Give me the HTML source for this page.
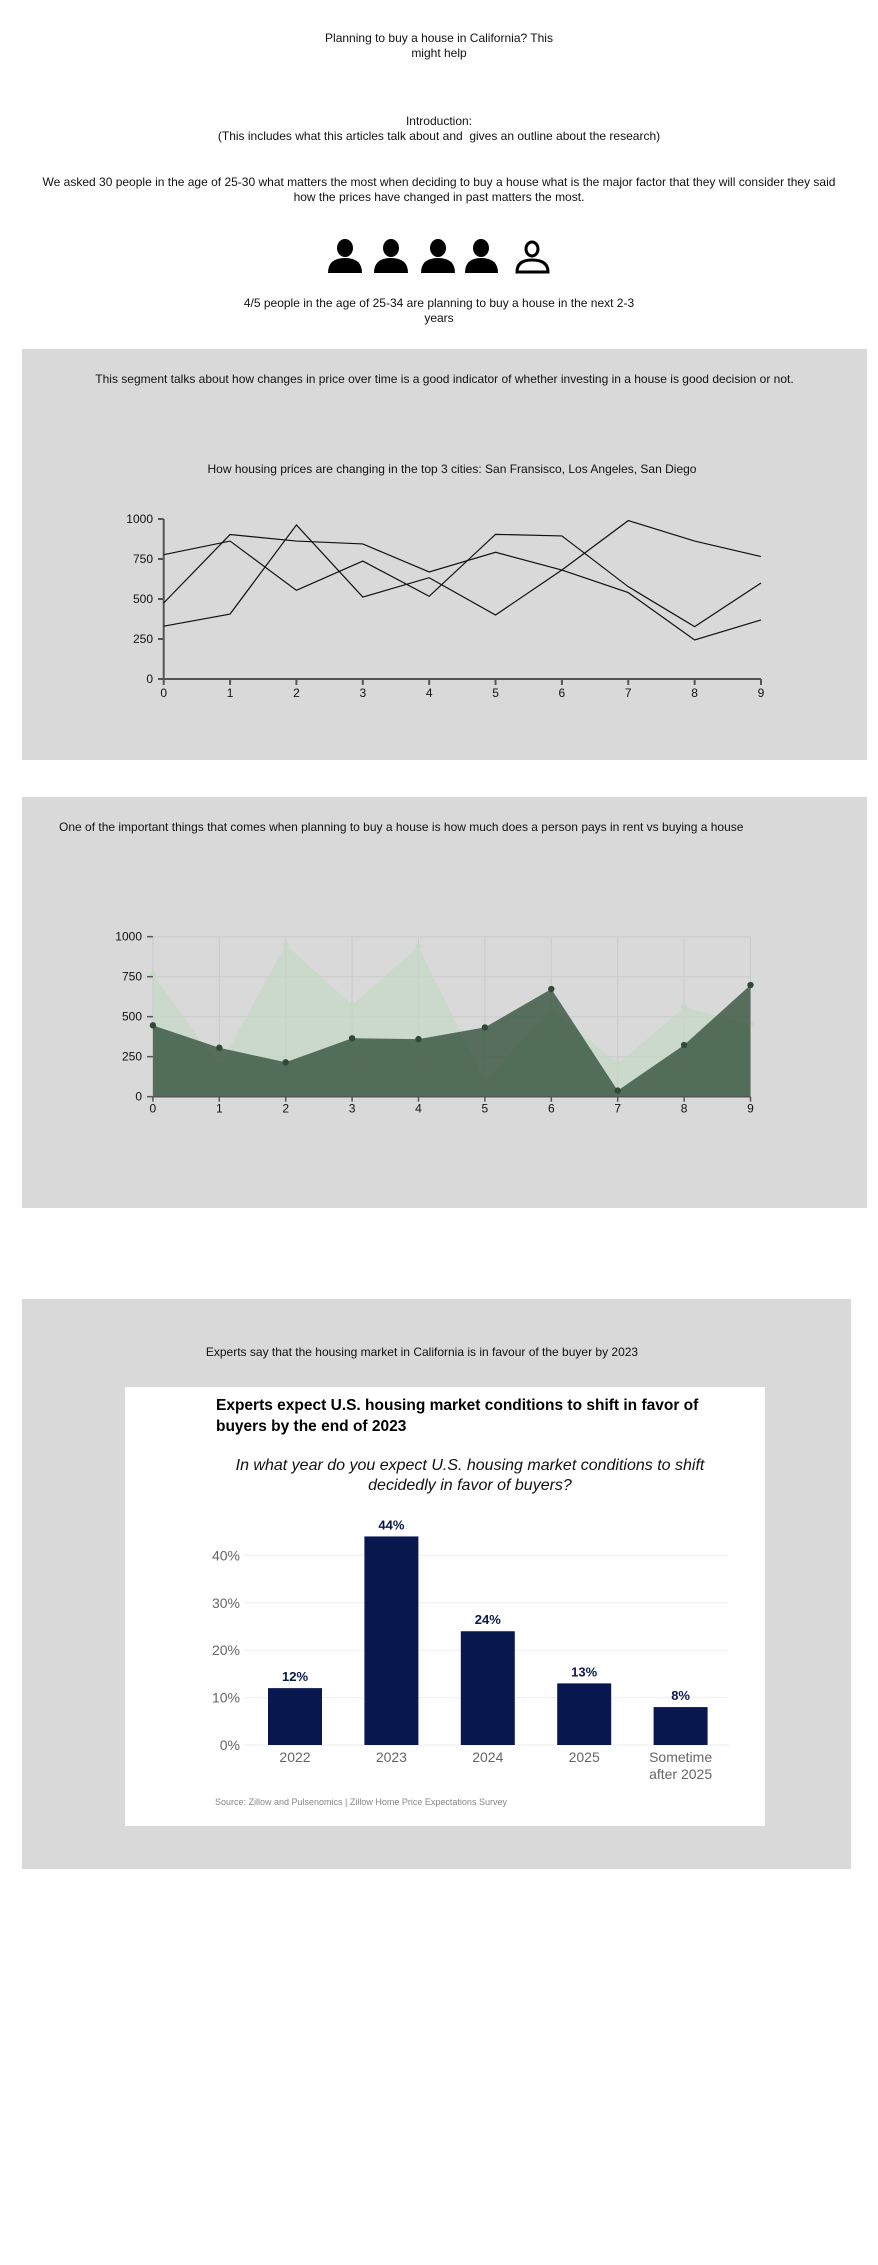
<!DOCTYPE html>
<html><head><meta charset="utf-8">
<style>
html,body{margin:0;padding:0;background:#fff;}
body{width:878px;height:2265px;position:relative;overflow:hidden;font-family:"Liberation Sans",sans-serif;color:#111;}
.t{position:absolute;left:0;width:878px;text-align:center;font-size:12px;line-height:15px;}
.box{position:absolute;background:#d9d9d9;}
svg text{font-family:"Liberation Sans",sans-serif;}
</style></head><body>
<div class="t" style="top:31px;">Planning to buy a house in California? This<br>might help</div>
<div class="t" style="top:114px;">Introduction:<br>(This includes what this articles talk about and&nbsp; gives an outline about the research)</div>
<div class="t" style="top:175px;left:30px;width:818px;">We asked 30 people in the age of 25-30 what matters the most when deciding to buy a house what is the major factor that they will consider they said how the prices have changed in past matters the most.</div>
<svg style="position:absolute;left:0;top:0" width="878" height="300">
  <g fill="#000">
    <g><ellipse cx="345" cy="248" rx="8" ry="9"/><path d="M328 273 Q328 258 345 258 Q362 258 362 273 Z"/></g>
    <g><ellipse cx="391" cy="248" rx="8" ry="9"/><path d="M374 273 Q374 258 391 258 Q408 258 408 273 Z"/></g>
    <g><ellipse cx="438" cy="248" rx="8" ry="9"/><path d="M421 273 Q421 258 438 258 Q455 258 455 273 Z"/></g>
    <g><ellipse cx="481" cy="248" rx="8" ry="9"/><path d="M465 273 Q465 258 481 258 Q498 258 498 273 Z"/></g>
  </g>
  <g fill="none" stroke="#000" stroke-width="3"><ellipse cx="532" cy="249" rx="6" ry="7"/><path d="M517 272 Q517 260 532 260 Q548 260 548 272 Z"/></g>
</svg>
<div class="t" style="top:296px;">4/5 people in the age of 25-34 are planning to buy a house in the next 2-3<br>years</div>

<div class="box" style="left:22px;top:349px;width:845px;height:411px;"></div>
<div class="t" style="top:372px;left:22px;width:845px;">This segment talks about how changes in price over time is a good indicator of whether investing in a house is good decision or not.</div>
<div class="t" style="top:462px;left:22px;width:860px;">How housing prices are changing in the top 3 cities: San Fransisco, Los Angeles, San Diego</div>
<svg id="lc" style="position:absolute;left:0;top:0" width="878" height="800"></svg>

<div class="box" style="left:22px;top:797px;width:845px;height:411px;"></div>
<div class="t" style="top:820px;left:59px;width:800px;text-align:left;">One of the important things that comes when planning to buy a house is how much does a person pays in rent vs buying a house</div>
<svg id="ac" style="position:absolute;left:0;top:880px" width="878" height="260"></svg>

<div class="box" style="left:22px;top:1299px;width:829px;height:570px;"></div>
<div class="t" style="top:1345px;left:22px;width:800px;">Experts say that the housing market in California is in favour of the buyer by 2023</div>
<div style="position:absolute;left:125px;top:1387px;width:640px;height:439px;background:#fff;"></div>
<div style="position:absolute;left:216px;top:1395px;width:505px;font-size:15.5px;line-height:21px;font-weight:bold;color:#000;">Experts expect U.S. housing market conditions to shift in favor of buyers by the end of 2023</div>
<div style="position:absolute;left:210px;top:1456px;width:520px;font-size:16px;line-height:20px;font-style:italic;text-align:center;color:#111;">In what year do you expect U.S. housing market conditions to shift decidedly in favor of buyers?</div>
<svg id="bc" style="position:absolute;left:0;top:1500px" width="878" height="300"></svg>
<div style="position:absolute;left:215px;top:1797px;font-size:9px;color:#888;">Source: Zillow and Pulsenomics | Zillow Home Price Expectations Survey</div>

<script>
// ---- line chart data ----
const lineX = [0,1,2,3,4,5,6,7,8,9];
const lineA = [777,862,554,737,517,904,894,577,327,600];
const lineB = [475,903,862,844,669,792,681,540,244,369];
const lineC = [330,406,963,512,633,400,681,990,862,765];
const lineYTicks = [0,250,500,750,1000];

// ---- area chart data ----
const areaX = [0,1,2,3,4,5,6,7,8,9];
const areaLight = [767,188,950,573,938,94,552,204,558,454];
const areaDark = [446,306,215,365,360,433,673,38,323,698];
const areaYTicks = [0,250,500,750,1000];

// ---- bar chart data ----
const barCats = [["2022"],["2023"],["2024"],["2025"],["Sometime","after 2025"]];
const barVals = [12,44,24,13,8];
const barYTicks = [0,10,20,30,40];

const NS="http://www.w3.org/2000/svg";
function mk(p,tag,a){const e=document.createElementNS(NS,tag);for(const k in a)e.setAttribute(k,a[k]);p.appendChild(e);return e;}

// line chart
(function(){
const s=document.getElementById('lc');
const x=v=>163.7+(761-163.7)*v/9, y=v=>679-160*v/1000;
const g=mk(s,'g',{});


mk(g,'line',{x1:163.7,y1:y(1000),x2:163.7,y2:679,stroke:'#555','stroke-width':2});
mk(g,'line',{x1:163.7,y1:679,x2:761,y2:679,stroke:'#555','stroke-width':2});
lineYTicks.forEach(v=>{mk(g,'line',{x1:158,x2:163.7,y1:y(v),y2:y(v),stroke:'#555','stroke-width':2});
 const t=mk(g,'text',{x:153,y:y(v)+4,'text-anchor':'end','font-size':12,fill:'#111'});t.textContent=v;
 
 });
lineX.forEach(v=>{mk(g,'line',{x1:x(v),x2:x(v),y1:679,y2:685,stroke:'#555','stroke-width':2});
 const t=mk(g,'text',{x:x(v),y:697,'text-anchor':'middle','font-size':12,fill:'#111'});t.textContent=v;
 
 });
[lineA,lineB,lineC].forEach((d,i)=>{
 const p=mk(s,'polyline',{points:d.map((v,j)=>x(lineX[j])+','+y(v)).join(' '),fill:'none',stroke:'#111','stroke-width':1.2});
 
 
});
})();

// area chart (svg top at 880)
(function(){
const s=document.getElementById('ac');const o=880;
const x=v=>152.9+(750.5-152.9)*v/9, y=v=>(1096.7-o)-160*v/1000;
areaYTicks.forEach(v=>mk(s,'line',{x1:152.9,x2:750.5,y1:y(v),y2:y(v),stroke:'#cfcfcf','stroke-width':1.5}));
areaX.forEach(v=>mk(s,'line',{x1:x(v),x2:x(v),y1:y(1000),y2:y(0),stroke:'#cacaca','stroke-width':1}));
function area(d,fill,name){
 const pts=d.map((v,j)=>x(areaX[j])+','+y(v)).join(' ');
 const p=mk(s,'polygon',{points:x(0)+','+y(0)+' '+pts+' '+x(9)+','+y(0),fill:fill});
 
 
}
area(areaLight,'rgba(196,216,196,0.75)','area-light');
areaLight.forEach((v,j)=>mk(s,'circle',{cx:x(areaX[j]),cy:y(v),r:3,fill:'#c6d8c6'}));
area(areaDark,'rgba(62,90,68,0.85)','area-dark');
areaDark.forEach((v,j)=>{const c=mk(s,'circle',{cx:x(areaX[j]),cy:y(v),r:3.2,fill:'#2f4a36'});
 
 });
mk(s,'line',{x1:152.9,y1:y(0),x2:750.5,y2:y(0),stroke:'#555','stroke-width':1.5});
areaYTicks.forEach(v=>{mk(s,'line',{x1:147,x2:152.9,y1:y(v),y2:y(v),stroke:'#555','stroke-width':1.5});
 const t=mk(s,'text',{x:142,y:y(v)+4,'text-anchor':'end','font-size':12,fill:'#111'});t.textContent=v;
 
 });
areaX.forEach(v=>{mk(s,'line',{x1:x(v),x2:x(v),y1:y(0),y2:y(0)+5,stroke:'#555','stroke-width':1.5});
 const t=mk(s,'text',{x:x(v),y:y(0)+16,'text-anchor':'middle','font-size':12,fill:'#111'});t.textContent=v;
 
 });
})();

// bar chart (svg top at 1500)
(function(){
const s=document.getElementById('bc');const o=1500;
const y=v=>(1745-o)-47.4*v/10;
const cx=i=>295+96.4*i, bw=54;
barYTicks.forEach(v=>{mk(s,'line',{x1:244,x2:729,y1:y(v),y2:y(v),stroke:'#eee','stroke-width':1});
 const t=mk(s,'text',{x:240,y:y(v)+5,'text-anchor':'end','font-size':14,fill:'#666'});t.textContent=v+'%';
 
 });
barVals.forEach((v,i)=>{
 const r=mk(s,'rect',{x:cx(i)-bw/2,y:y(v),width:bw,height:y(0)-y(v),fill:'#08184f'});
 
 
 const t=mk(s,'text',{x:cx(i),y:y(v)-7,'text-anchor':'middle','font-size':13,'font-weight':'bold',fill:'#0a1a4f'});t.textContent=v+'%';
 
 
 barCats[i].forEach((c,k)=>{const l=mk(s,'text',{x:cx(i),y:(1762-o)+k*17,'text-anchor':'middle','font-size':14,fill:'#666'});l.textContent=c;
  
  });
});
})();
</script>
</body></html>
